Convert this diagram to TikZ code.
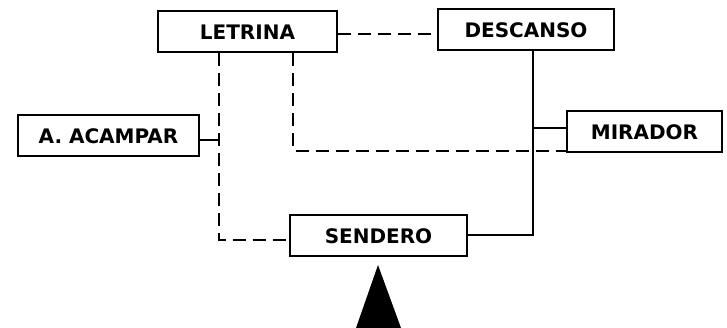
\documentclass[tikz,border=0pt]{standalone}
\usepackage{fontspec}
\setmainfont{DejaVu Sans}
\usetikzlibrary{positioning}

\begin{document}
\begin{tikzpicture}[x=1pt, y=-1pt,
    zona/.style={rectangle, draw, line width=2pt, minimum height=41pt, inner sep=0pt, font=\fontsize{20}{22}\selectfont\bfseries},
    senda/.style={line width=2.2pt},
    vereda/.style={line width=1.3pt, dash pattern=on 13pt off 7pt}]
    \useasboundingbox (0,0) rectangle (727,328);
    \node [zona, minimum width=179pt] (letrina) at (247.5,32) {LETRINA};
    \node [zona, minimum width=176pt] (descanso) at (526,30) {DESCANSO};
    \node [zona, minimum width=155pt] (mirador) at (644.5,132) {MIRADOR};
    \node [zona, minimum width=181pt] (acampar) at (108.5,136) {A. ACAMPAR};
    \node [zona, minimum width=177pt] (sendero) at (378.5,236) {SENDERO};
    \coordinate (cruce) at (219,140);
    \coordinate (esquina) at (219,240);
    \coordinate (codo) at (293,151);
    \coordinate (giro) at (533,235);
    % caminos de tierra
    \draw [vereda] (letrina.east |- 0,34) -- (descanso.west |- 0,34);
    \draw [vereda] (letrina.south -| cruce) -- (esquina) -- (sendero.west |- esquina);
    \draw [vereda] (letrina.south -| codo) -- (codo) -- (mirador.west |- codo);
    % caminos principales
    \draw [senda] (acampar.east |- cruce) -- (cruce);
    \draw [senda] (descanso.south -| giro) -- (giro) -- (sendero.east |- giro);
    \draw [senda] (giro |- 0,128) -- (mirador.west |- 0,128);
    % entrada
    \fill (378,265) -- (401,328) -- (356,328) -- cycle;
\end{tikzpicture}
\end{document}
